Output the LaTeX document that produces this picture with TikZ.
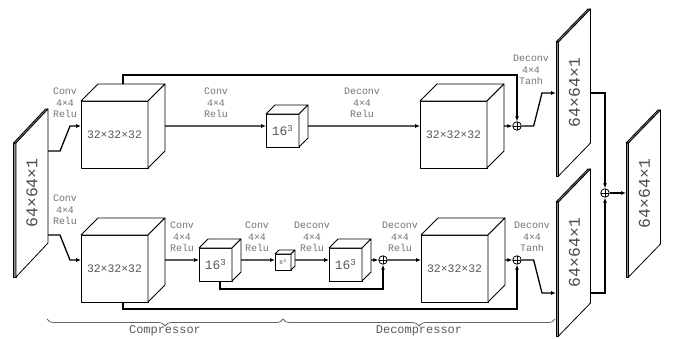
\documentclass[tikz,border=0pt]{standalone}
\usepackage{fontspec}
\newfontfamily\mono{Liberation Mono}
\usetikzlibrary{arrows.meta,decorations.pathreplacing}

\tikzset{
  conn/.style={line width=1.3bp, -{Latex[length=5bp,width=4bp]}},
  face/.style={draw, line width=0.8bp, fill=white, line join=round},
  edgeface/.style={draw, line width=0.8bp, fill=black!45, line join=round},
  lbl/.style={font=\mono\fontsize{10}{11.5}\selectfont, text=black!55, align=center, inner sep=0pt},
  bigtxt/.style={font=\mono\fontsize{11.5}{13}\selectfont, text=black!65},
  midtxt/.style={font=\mono\fontsize{13}{15}\selectfont, text=black!65},
  tinytxt/.style={font=\mono\fontsize{6}{7}\selectfont, text=black!65},
  slabtxt/.style={font=\mono\fontsize{16.5}{18}\selectfont, text=black!70, inner sep=0pt},
  bracetxt/.style={font=\mono\fontsize{12}{14}\selectfont, text=black!65},
  bracepath/.style={draw=black!60, line width=0.8bp, decorate, decoration={brace, mirror, amplitude=7bp}},
  oplus/.style={circle, draw, line width=0.8bp, fill=white, minimum size=8.5bp, inner sep=0pt,
    path picture={\draw[line width=0.8bp] (path picture bounding box.north) -- (path picture bounding box.south)
      (path picture bounding box.west) -- (path picture bounding box.east);}}
}

% #1 name, #2 x, #3 y (front top-left), #4 w, #5 h, #6 depth, #7 text style, #8 text
\newcommand\cubebox[8]{%
  \node[face, #7, anchor=north west, minimum width=#4bp, minimum height=#5bp, inner sep=0pt, outer sep=0pt] (#1) at (#2,#3) {#8};
  \draw[face] (#1.north west) -- ([shift={(#6,-#6)}]#1.north west) -- ([shift={(#6,-#6)}]#1.north east) -- (#1.north east) -- cycle;
  \draw[face] (#1.north east) -- ([shift={(#6,-#6)}]#1.north east) -- ([shift={(#6,-#6)}]#1.south east) -- (#1.south east) -- cycle;
  \coordinate (#1-in) at ([shift={(0,-#6/2)}]#1.west);
  \coordinate (#1-out) at ([shift={(#6,-#6/2)}]#1.east);
  \coordinate (#1-top) at ([shift={(#6/2,-#6)}]#1.north);
  \coordinate (#1-bot) at ([shift={(#6/2,0)}]#1.south);
}

% #1 name, #2 x, #3 y (front top-left), #4 h, #5 dx, #6 dy (up)
\newcommand\slabbox[6]{%
  \node[edgeface, anchor=north west, minimum width=2.5bp, minimum height=#4bp, inner sep=0pt, outer sep=0pt] (#1) at (#2,#3) {};
  \draw[edgeface] (#1.north west) -- ([shift={(#5,-#6)}]#1.north west) -- ([shift={(#5,-#6)}]#1.north east) -- (#1.north east) -- cycle;
  \draw[face] (#1.north east) -- ([shift={(#5,-#6)}]#1.north east) -- ([shift={(#5,-#6)}]#1.south east) -- (#1.south east) -- cycle;
  \node[slabtxt, rotate=90] (#1-t) at ([shift={(#5/2,-#6/2)}]#1.east) {64×64×1};
}

\begin{document}
\begin{tikzpicture}[x=1bp, y=-1bp]
\useasboundingbox (0,0) rectangle (675,338);

% slabs
\slabbox{in}{13.5}{143}{134}{32}{34}
\slabbox{S1}{556}{42}{134}{32}{33}
\slabbox{S2}{556}{202}{134}{32}{33}
\slabbox{F}{626}{143}{134}{32}{33}

% cubes, upper row
\cubebox{A}{81}{101}{67}{67}{17}{bigtxt}{32×32×32}
\cubebox{B}{266}{114}{33}{33}{9}{midtxt}{16\textsuperscript{3}}
\cubebox{C}{420}{101}{67}{67}{17}{bigtxt}{32×32×32}

% cubes, lower row
\cubebox{D}{81}{235}{67}{67}{17}{bigtxt}{32×32×32}
\cubebox{E}{199}{248}{33}{33}{9}{midtxt}{16\textsuperscript{3}}
\cubebox{G}{275}{254}{16}{16}{4}{tinytxt}{8\textsuperscript{3}}
\cubebox{H}{329}{248}{33}{33}{9}{midtxt}{16\textsuperscript{3}}
\cubebox{I}{421}{235}{67}{67}{17}{bigtxt}{32×32×32}

% sums
\node[oplus] (o1) at (517,126) {};
\node[oplus] (o2) at (605,193) {};
\node[oplus] (o3) at (383,260) {};
\node[oplus] (o4) at (517,260) {};

% slab connection points
\coordinate (inU) at ([shift={(32,8)}]in.north east);
\coordinate (inL) at ([shift={(32,92)}]in.north east);
\coordinate (S1-in) at ([shift={(0,51)}]S1.north west);
\coordinate (S1-out) at ([shift={(32,51)}]S1.north east);
\coordinate (S2-in) at ([shift={(0,91)}]S2.north west);
\coordinate (S2-out) at ([shift={(32,91)}]S2.north east);
\coordinate (F-in) at ([shift={(0,50)}]F.north west);

% upper row connectors
\draw[conn] (inU) -- ++(12,0) -- ([xshift=-11bp]A-in) -- (A-in);
\draw[conn] (A-out) -- (B-in);
\draw[conn] (B-out) -- (C-in);
\draw[conn] (C-out) -- (o1);
\draw[conn] (A-top) -- ++(0,-9) -| (o1.north);
\draw[conn] (o1.east) -- ++(12,0) -- ([xshift=-14bp]S1-in) -- (S1-in);

% lower row connectors
\draw[conn] (inL) -- ++(12,0) -- ([xshift=-11bp]D-in) -- (D-in);
\draw[conn] (D-out) -- (E-in);
\draw[conn] (E-out) -- (G-in);
\draw[conn] (G-out) -- (H-in);
\draw[conn] (H-out) -- (o3);
\draw[conn] (o3) -- (I-in);
\draw[conn] (I-out) -- (o4);
\draw[conn] (E-bot) -- ++(0,8) -| (o3.south);
\draw[conn] (D-bot) -- ++(0,7) -| (o4.south);
\draw[conn] (o4.east) -- ++(12,0) -- ([xshift=-14bp]S2-in) -- (S2-in);

% final sum
\draw[conn] (S1-out) -| (o2.north);
\draw[conn] (S2-out) -| (o2.south);
\draw[conn] (o2) -- (F-in);

% labels
\node[lbl] (l1) at (65,103) {Conv\\4×4\\Relu};
\node[lbl] (l2) at (65,210) {Conv\\4×4\\Relu};
\node[lbl] (l3) at (216,103) {Conv\\4×4\\Relu};
\node[lbl] (l4) at (362,103) {Deconv\\4×4\\Relu};
\node[lbl] (l5) at (531,70) {Deconv\\4×4\\Tanh};
\node[lbl] (l6) at (182,237) {Conv\\4×4\\Relu};
\node[lbl] (l7) at (257,237) {Conv\\4×4\\Relu};
\node[lbl] (l8) at (312,237) {Deconv\\4×4\\Relu};
\node[lbl] (l9) at (400,237) {Deconv\\4×4\\Relu};
\node[lbl] (l10) at (532,237) {Deconv\\4×4\\Tanh};

% braces
\coordinate (b0) at (47,319);
\coordinate (b1) at (283,319);
\coordinate (b2) at (555,319);
\draw[bracepath] (b0) -- (b1);
\draw[bracepath] (b1) -- (b2);
\node[bracetxt] (comp) at (165,331) {Compressor};
\node[bracetxt] (decomp) at (419,331) {Decompressor};
\end{tikzpicture}
\end{document}
